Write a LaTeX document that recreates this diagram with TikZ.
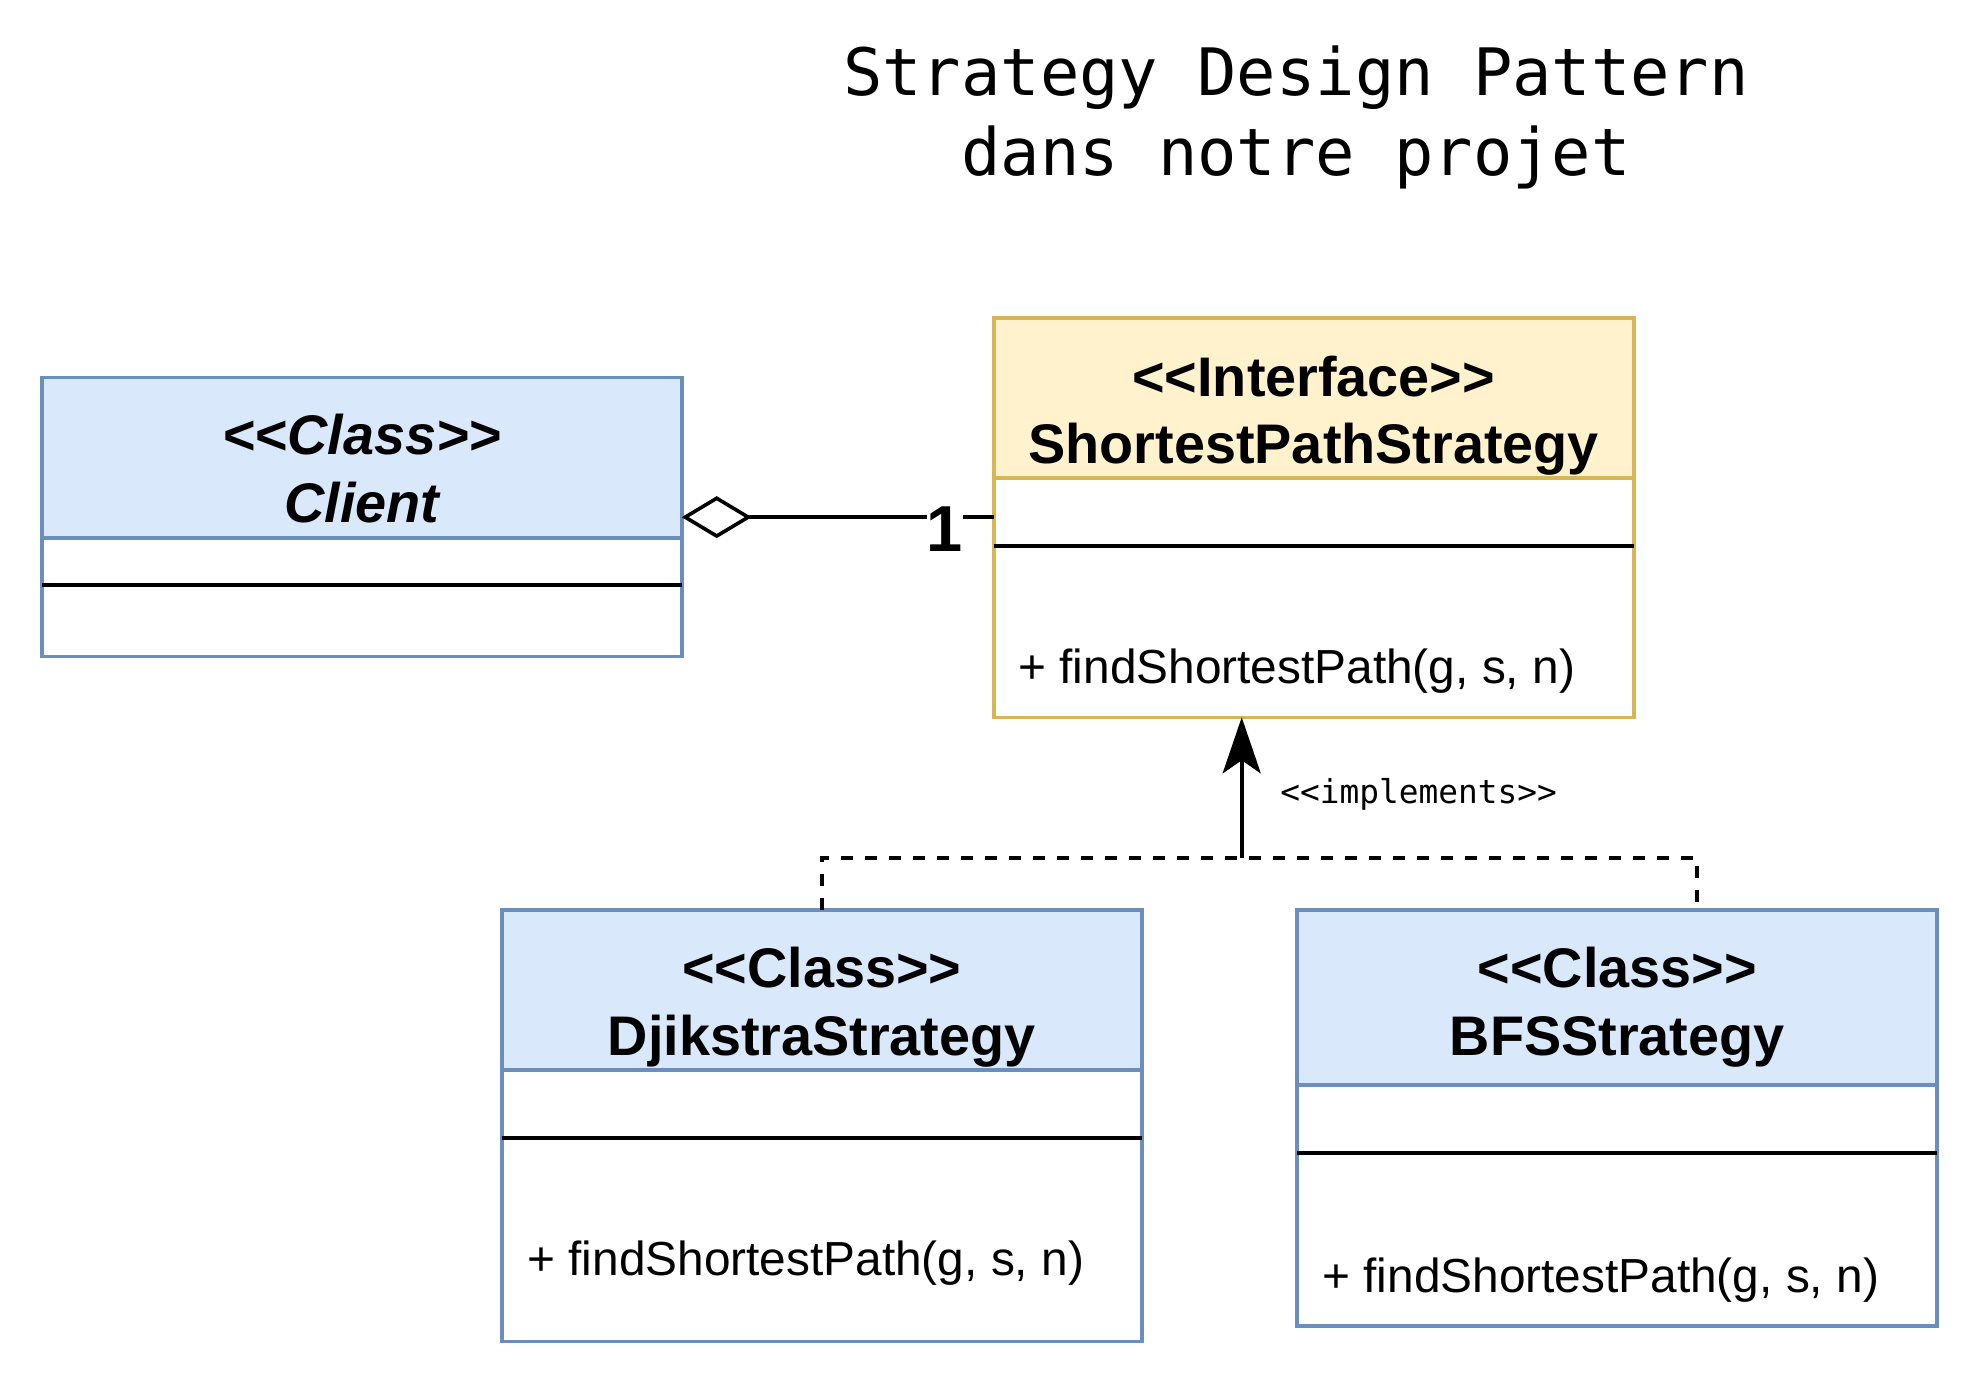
\documentclass[tikz,border=0pt]{standalone}
\usepackage{fontspec}
\setmainfont{Liberation Sans}
\newfontfamily\monof{DejaVu Sans Mono}
\usetikzlibrary{arrows.meta}
\definecolor{bluefill}{HTML}{DAE8FC}
\definecolor{bluedraw}{HTML}{6C8EBF}
\definecolor{yelfill}{HTML}{FFF2CC}
\definecolor{yeldraw}{HTML}{D6B656}
\newcommand\UMLlt{<\kern0pt<}
\newcommand\UMLgt{>\kern0pt>}
\begin{document}
\begin{tikzpicture}[x=0.5pt,y=-0.5pt,
  classbox/.style={draw, line width=1.8pt, fill=white, minimum width=320pt, anchor=north west, inner sep=0pt, outer sep=0pt},
  hdrbox/.style={draw, line width=1.8pt, minimum width=320pt, anchor=north west, inner sep=0pt, outer sep=0pt},
  sepline/.style={line width=2pt, black},
  hdrtext/.style={font=\bfseries\fontsize{27.9}{30}\selectfont, anchor=base, inner sep=0pt},
  methtext/.style={font=\fontsize{23.9}{26}\selectfont, anchor=base west, inner sep=0pt},
  titletext/.style={font=\monof\fontsize{32.7}{40}\selectfont, anchor=base, inner sep=0pt},
  impl/.style={line width=1.8pt, dash pattern=on 5.9pt off 6.1pt},
  conn/.style={line width=1.8pt}
]
\useasboundingbox[fill=white] (0,0) rectangle (1980,1384);

% title
\node[titletext] (title1) at (1296,95.7) {Strategy Design Pattern};
\node[titletext] (title2) at (1296,175.7) {dans notre projet};

% Client
\node[classbox, draw=bluedraw, minimum height=139.55pt] (client) at (41.7,377.6) {};
\node[hdrbox, draw=bluedraw, fill=bluefill, minimum height=80.2pt] (clienth) at (41.7,377.6) {};
\draw[sepline] (client.west |- 0,585) -- (client.east |- 0,585);
\node[hdrtext, font=\bfseries\itshape\fontsize{27.9}{30}\selectfont] (clients) at (361.75,455) {\UMLlt Class\UMLgt};
\node[hdrtext, font=\bfseries\itshape\fontsize{27.9}{30}\selectfont] (clientn) at (361.75,523) {Client};

% Interface
\node[classbox, draw=yeldraw, minimum height=199.5pt] (iface) at (993.7,318.3) {};
\node[hdrbox, draw=yeldraw, fill=yelfill, minimum height=79.85pt] (ifaceh) at (993.7,318.3) {};
\draw[sepline] (iface.west |- 0,545.7) -- (iface.east |- 0,545.7);
\node[hdrtext] (ifaces) at (1313.7,396.7) {\UMLlt Interface\UMLgt};
\node[hdrtext] (ifacen) at (1313.7,464) {ShortestPathStrategy};
\node[methtext] (ifacem) at (1018,683.3) {+ findShortestPath(g, s, n)};

% Djikstra
\node[classbox, draw=bluedraw, minimum height=215.75pt] (dj) at (501.7,910) {};
\node[hdrbox, draw=bluedraw, fill=bluefill, minimum height=80pt] (djh) at (501.7,910) {};
\draw[sepline] (dj.west |- 0,1137.8) -- (dj.east |- 0,1137.8);
\node[hdrtext] (djs) at (821.7,987.7) {\UMLlt Class\UMLgt};
\node[hdrtext] (djn) at (821.7,1055.7) {DjikstraStrategy};
\node[methtext] (djm) at (527,1275.7) {+ findShortestPath(g, s, n)};

% BFS
\node[classbox, draw=bluedraw, minimum height=208pt] (bfs) at (1297.2,910) {};
\node[hdrbox, draw=bluedraw, fill=bluefill, minimum height=87.35pt] (bfsh) at (1297.2,910) {};
\draw[sepline] (bfs.west |- 0,1152.9) -- (bfs.east |- 0,1152.9);
\node[hdrtext] (bfss) at (1617.2,987.7) {\UMLlt Class\UMLgt};
\node[hdrtext] (bfsn) at (1617.2,1055.7) {BFSStrategy};
\node[methtext] (bfsm) at (1322,1292) {+ findShortestPath(g, s, n)};

% realization
\coordinate (j) at (1241.7,857.7);
\coordinate (bfsin) at (1697,910);
\draw[impl] (dj.north) |- (j) -| (bfsin);
\draw[conn, -{Stealth[length=28pt, width=19pt, inset=6.5pt]}] (j) -- (j |- iface.south);
\node[font=\monof\fontsize{16.4}{18}\selectfont, anchor=base west, inner sep=0pt] (impllabel) at (1280,803) {\UMLlt implements\UMLgt};

% aggregation
\draw[conn, {Diamond[open, fill=white, length=35pt, width=21pt]}-] (client.east) -- (iface.west |- client.east);
\node[font=\bfseries\fontsize{32.5}{34}\selectfont, fill=white, inner sep=0pt, anchor=base] (mult) at (945,551.7) {1};
\end{tikzpicture}
\end{document}
